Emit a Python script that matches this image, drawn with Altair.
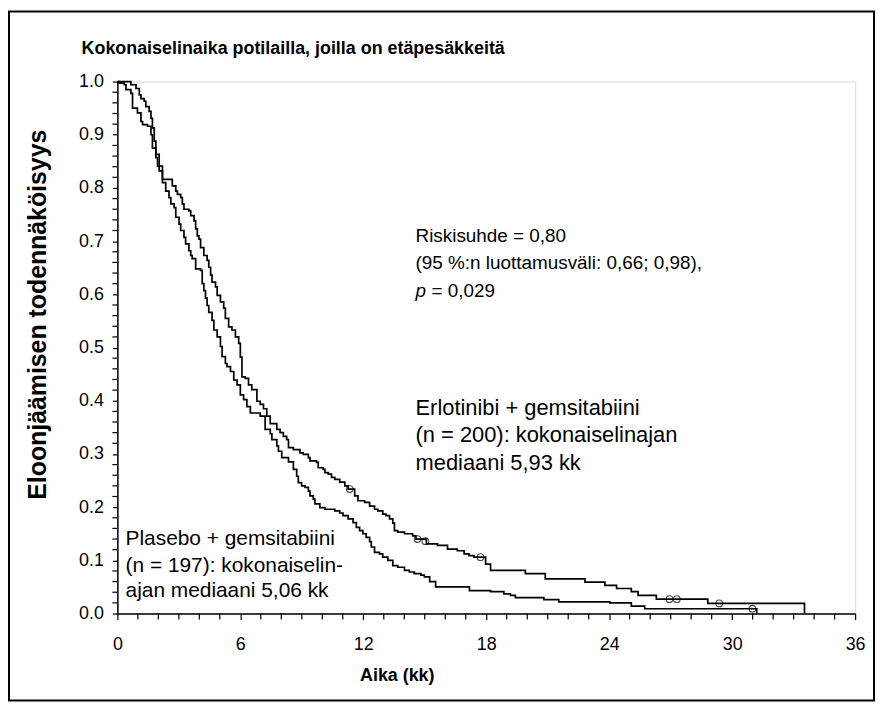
import altair as alt
import pandas as pd

# ---- data (time in months, survival probability) ----
erl_steps = [
    (0, 1.0), (0.10, 0.997), (0.34, 0.994), (0.42, 0.985), (0.66, 0.978), (0.74, 0.950),
    (0.98, 0.941), (1.15, 0.925), (1.23, 0.919), (1.47, 0.916), (1.64, 0.900), (1.71, 0.875),
    (1.88, 0.857), (1.96, 0.841), (2.20, 0.816), (2.68, 0.804), (2.85, 0.794), (2.93, 0.788),
    (3.09, 0.782), (3.17, 0.770), (3.25, 0.760), (3.49, 0.757), (3.58, 0.748), (3.74, 0.738),
    (3.82, 0.723), (3.90, 0.710), (3.98, 0.704), (4.06, 0.688), (4.22, 0.673), (4.38, 0.664),
    (4.46, 0.651), (4.55, 0.636), (4.62, 0.623), (4.79, 0.614), (4.87, 0.598), (5.03, 0.586),
    (5.19, 0.574), (5.27, 0.555), (5.43, 0.539), (5.59, 0.533), (5.76, 0.520), (5.92, 0.508),
    (6.00, 0.482), (6.08, 0.445), (6.24, 0.442), (6.40, 0.430), (6.56, 0.421), (6.81, 0.399),
    (6.97, 0.393), (7.13, 0.385), (7.29, 0.371), (7.46, 0.357), (7.78, 0.346), (7.94, 0.340),
    (8.10, 0.333), (8.26, 0.327), (8.35, 0.312), (8.59, 0.308), (8.91, 0.302), (9.07, 0.299),
    (9.32, 0.293), (9.40, 0.287), (9.72, 0.284), (9.80, 0.274), (10.04, 0.271), (10.13, 0.265),
    (10.29, 0.262), (10.45, 0.256), (10.61, 0.252), (10.85, 0.247), (11.10, 0.240), (11.26, 0.234),
    (11.58, 0.221), (11.74, 0.212), (12.07, 0.209), (12.31, 0.202), (12.55, 0.196), (12.71, 0.193),
    (12.95, 0.187), (13.11, 0.184), (13.28, 0.178), (13.44, 0.170), (13.52, 0.156), (13.68, 0.153),
    (14.01, 0.150), (14.41, 0.146), (14.57, 0.140), (15.08, 0.131), (15.62, 0.128), (16.11, 0.121),
    (16.59, 0.118), (16.92, 0.112), (17.16, 0.109), (17.40, 0.106), (17.97, 0.093), (18.21, 0.081),
    (19.91, 0.075), (20.88, 0.065), (22.82, 0.059), (23.79, 0.053), (24.36, 0.047), (25.08, 0.041),
    (25.41, 0.034), (26.30, 0.027), (28.81, 0.019), (33.53, 0.0),
]
pla_steps = [
    (0, 1.0), (0.66, 0.994), (0.91, 0.987), (1.07, 0.975), (1.15, 0.968), (1.31, 0.963),
    (1.39, 0.953), (1.55, 0.944), (1.64, 0.931), (1.71, 0.913), (1.80, 0.888), (1.88, 0.863),
    (2.04, 0.832), (2.20, 0.810), (2.36, 0.794), (2.52, 0.782), (2.61, 0.770), (2.77, 0.763),
    (2.85, 0.745), (3.01, 0.732), (3.09, 0.720), (3.25, 0.707), (3.33, 0.695), (3.49, 0.682),
    (3.58, 0.673), (3.65, 0.667), (3.82, 0.648), (4.06, 0.645), (4.14, 0.620), (4.22, 0.607),
    (4.30, 0.593), (4.38, 0.579), (4.46, 0.566), (4.62, 0.551), (4.71, 0.533), (4.87, 0.520),
    (5.03, 0.502), (5.11, 0.483), (5.27, 0.470), (5.35, 0.464), (5.52, 0.455), (5.68, 0.439),
    (5.84, 0.430), (6.00, 0.411), (6.16, 0.402), (6.32, 0.389), (6.49, 0.377), (6.97, 0.371),
    (7.21, 0.346), (7.46, 0.338), (7.54, 0.327), (7.78, 0.315), (7.86, 0.305), (8.02, 0.293),
    (8.35, 0.285), (8.59, 0.271), (8.75, 0.258), (8.83, 0.246), (8.99, 0.240), (9.16, 0.237),
    (9.32, 0.230), (9.40, 0.221), (9.56, 0.215), (9.64, 0.206), (9.88, 0.199), (10.13, 0.196),
    (10.61, 0.193), (10.85, 0.189), (11.01, 0.184), (11.26, 0.178), (11.50, 0.171), (11.66, 0.162),
    (11.82, 0.156), (11.98, 0.150), (12.14, 0.143), (12.31, 0.135), (12.39, 0.125), (12.55, 0.115),
    (12.79, 0.112), (12.95, 0.106), (13.20, 0.100), (13.44, 0.090), (13.68, 0.087), (14.01, 0.081),
    (14.25, 0.078), (14.49, 0.075), (14.81, 0.072), (14.98, 0.069), (15.24, 0.060), (15.53, 0.050),
    (17.18, 0.043), (18.21, 0.041), (18.86, 0.037), (19.18, 0.034), (19.42, 0.030), (20.81, 0.026),
    (21.54, 0.022), (24.03, 0.020), (25.08, 0.014), (25.73, 0.009), (31.20, 0.0),
]
erl_censor = [(11.34, 0.234), (14.65, 0.140), (15.03, 0.136), (17.72, 0.106),
              (26.94, 0.027), (27.30, 0.027), (29.37, 0.019)]
pla_censor = [(30.99, 0.009)]

title_text = "Kokonaiselinaika potilailla, joilla on etäpesäkkeitä"
x_title = "Aika (kk)"
y_title = "Eloonjäämisen todennäköisyys"
x_major = [0, 6, 12, 18, 24, 30, 36]
x_minor = [m for m in range(1, 36) if m % 6 != 0]
y_major = [0.0, 0.1, 0.2, 0.3, 0.4, 0.5, 0.6, 0.7, 0.8, 0.9, 1.0]
y_minor = [k / 50 for k in range(1, 50) if k % 5 != 0]

risk_text = ["Riskisuhde = 0,80", "(95 %:n luottamusväli: 0,66; 0,98),"]
risk_s = [0.710, 0.658]
erl_text = ["Erlotinibi + gemsitabiini", "(n = 200): kokonaiselinajan", "mediaani 5,93 kk"]
erl_s = [0.387, 0.335, 0.282]
pla_text = ["Plasebo + gemsitabiini", "(n = 197): kokonaiselin-", "ajan mediaani 5,06 kk"]
pla_s = [0.140, 0.090, 0.043]
p_italic = "p"
p_rest = "= 0,029"
p_s = 0.606
right_block_t = 14.55
left_block_t = 0.40

FONT = "Liberation Sans"

# ---- tables ----
lines = pd.DataFrame(
    [{"t": t, "s": s, "g": "Erlotinibi"} for t, s in erl_steps]
    + [{"t": t, "s": s, "g": "Plasebo"} for t, s in pla_steps]
)
cens = pd.DataFrame([{"t": t, "s": s} for t, s in erl_censor + pla_censor])
risk_df = pd.DataFrame({"text": risk_text, "s": risk_s, "t": right_block_t})
erl_df = pd.DataFrame({"text": erl_text, "s": erl_s, "t": right_block_t})
pla_df = pd.DataFrame({"text": pla_text, "s": pla_s, "t": left_block_t})
p_df = pd.DataFrame({"a": [p_italic], "b": [p_rest], "t": [right_block_t], "s": [p_s]})
xminor_df = pd.DataFrame({"t": x_minor})
yminor_df = pd.DataFrame({"s": y_minor})

x_scale = alt.Scale(domain=[0, 36], nice=False, zero=False)
y_scale = alt.Scale(domain=[0, 1], nice=False, zero=False)

x_axis = alt.Axis(
    values=x_major, format="d",
    title=x_title, titleX=281, titleY=62, titleAlign="center", titleBaseline="middle",
    titleFont=FONT, titleFontSize=18, titleFontWeight="bold", titleColor="black",
    grid=False, tickSize=6, tickColor="black", tickWidth=1.2,
    domainColor="black", domainWidth=1.5,
    labelFont=FONT, labelFontSize=18, labelColor="black", labelPadding=16,
    labelFlush=False, labelOverlap=False,
)
y_axis = alt.Axis(
    values=y_major, format=".1f",
    title=y_title, titleX=-80, titleY=234, titleAngle=270, titleAlign="center",
    titleBaseline="middle",
    titleFont=FONT, titleFontSize=25, titleFontWeight="bold", titleColor="black",
    grid=False, tickSize=5, tickColor="black", tickWidth=1.2,
    domainColor="black", domainWidth=1.5,
    labelFont=FONT, labelFontSize=18, labelColor="black", labelPadding=9,
    labelFlush=False, labelOverlap=False,
)

curves = alt.Chart(lines).mark_line(
    interpolate="step-after", color="black", strokeWidth=1.7
).encode(
    x=alt.X("t:Q", scale=x_scale, axis=x_axis),
    y=alt.Y("s:Q", scale=y_scale, axis=y_axis),
    detail="g:N",
)

x_minor_ticks = alt.Chart(xminor_df).mark_rule(
    color="black", strokeWidth=1.2, clip=False
).encode(x="t:Q", y=alt.value(535), y2=alt.value(541))

y_minor_ticks = alt.Chart(yminor_df).mark_rule(
    color="black", strokeWidth=1.2, clip=False
).encode(y="s:Q", x=alt.value(-5), x2=alt.value(0))

censor_pts = alt.Chart(cens).mark_point(
    shape="circle", filled=False, color="black", size=45, strokeWidth=1.1
).encode(x="t:Q", y="s:Q")

risk_layer = alt.Chart(risk_df).mark_text(
    align="left", baseline="middle", font=FONT, fontSize=19, color="black"
).encode(x="t:Q", y="s:Q", text="text:N")

p_layer = alt.Chart(p_df).mark_text(
    align="left", baseline="middle", font=FONT, fontSize=19, fontStyle="italic", color="black"
).encode(x="t:Q", y="s:Q", text="a:N")
p_rest_layer = alt.Chart(p_df).mark_text(
    align="left", baseline="middle", font=FONT, fontSize=19, color="black", dx=16
).encode(x="t:Q", y="s:Q", text="b:N")

erl_layer = alt.Chart(erl_df).mark_text(
    align="left", baseline="middle", font=FONT, fontSize=22, color="black"
).encode(x="t:Q", y="s:Q", text="text:N")

pla_layer = alt.Chart(pla_df).mark_text(
    align="left", baseline="middle", font=FONT, fontSize=21, color="black"
).encode(x="t:Q", y="s:Q", text="text:N")

title_layer = alt.Chart(pd.DataFrame({"text": [title_text]})).mark_text(
    align="left", baseline="middle", font=FONT, fontSize=18, fontWeight="bold",
    color="black", clip=False
).encode(x=alt.value(-36), y=alt.value(-33), text="text:N")

frame = alt.Chart(pd.DataFrame({"a": [0]})).mark_rect(
    fillOpacity=0, stroke="black", strokeWidth=2, clip=False
).encode(
    x=alt.value(-109), x2=alt.value(761), y=alt.value(-70.5), y2=alt.value(622.5)
)

chart = alt.layer(
    curves, x_minor_ticks, y_minor_ticks, censor_pts,
    risk_layer, p_layer, p_rest_layer, erl_layer, pla_layer, title_layer, frame
).properties(
    width=742, height=535,
    autosize=alt.AutoSizeParams(type="none"),
    padding={"left": 110, "top": 72, "right": 20, "bottom": 89},
).configure_view(strokeWidth=0).configure(background="white")

chart.save("out.html", embed_options={"renderer": "svg", "actions": False})
